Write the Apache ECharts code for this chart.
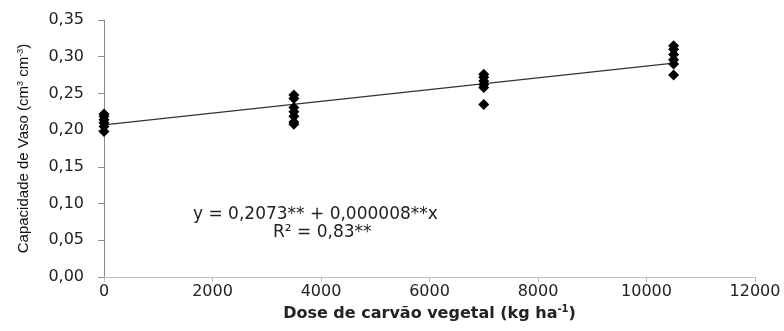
<!DOCTYPE html>
<html>
<head>
<meta charset="utf-8">
<script src="https://cdn.jsdelivr.net/npm/echarts@6/dist/echarts.min.js"></script>
<style>html,body{margin:0;padding:0;background:#fff}#c{width:784px;height:331px}</style>
</head>
<body>
<div id="c"></div>
<script>
// Data
const doses = [0, 3500, 7000, 10500];
const vals0 = [0.222, 0.219, 0.214, 0.210, 0.205, 0.198];
const vals3500 = [0.248, 0.243, 0.231, 0.225, 0.219, 0.211, 0.208];
const vals7000 = [0.276, 0.272, 0.267, 0.262, 0.258, 0.235];
const vals10500 = [0.315, 0.310, 0.303, 0.296, 0.290, 0.275];
const fitX = [0, 10500];
const fitY = [0.2073, 0.2913];
const xTicks = [0, 2000, 4000, 6000, 8000, 10000, 12000];
const yTicks = [0, 0.05, 0.10, 0.15, 0.20, 0.25, 0.30, 0.35];
const eqLine1 = 'y = 0,2073** + 0,000008**x';
const eqLine2 = 'R² = 0,83**';

const groups = [vals0, vals3500, vals7000, vals10500];
const points = [];
groups.forEach((g, i) => g.forEach(v => points.push([doses[i], v])));
const fitData = fitX.map((x, i) => [x, fitY[i]]);

const chart = echarts.init(document.getElementById('c'), null, {renderer: 'canvas'});
const tickFont = 'DejaVu Sans';
chart.setOption({
  animation: false,
  backgroundColor: '#fff',
  grid: {left: 104, right: 29, top: 20, bottom: 54, containLabel: false},
  xAxis: {
    type: 'value', min: xTicks[0], max: xTicks[xTicks.length - 1], interval: 2000,
    splitLine: {show: false},
    axisLine: {show: true, onZero: false, lineStyle: {color: '#bdbdbd', width: 1}},
    axisTick: {show: true, length: 5, lineStyle: {color: '#bdbdbd'}},
    axisLabel: {fontFamily: tickFont, fontSize: 16, color: '#222', margin: 7,
      formatter: v => String(v)},
    name: 'Dose de carvão vegetal (kg ha{sup|-1})',
    nameLocation: 'middle', nameGap: 10,
    nameTextStyle: {
      fontFamily: 'DejaVu Sans', fontWeight: 'bold', fontSize: 16, color: '#222',
      rich: {sup: {fontFamily: 'DejaVu Sans', fontWeight: 'bold', fontSize: 10, verticalAlign: 'top', padding: [0,0,7,0], color: '#222'}}
    }
  },
  yAxis: {
    type: 'value', min: yTicks[0], max: yTicks[yTicks.length - 1], interval: 0.05,
    splitLine: {show: false},
    axisLine: {show: true, lineStyle: {color: '#8a8a8a', width: 1}},
    axisTick: {show: true, length: 6, lineStyle: {color: '#8a8a8a'}},
    axisLabel: {fontFamily: tickFont, fontSize: 16, color: '#222', margin: 20,
      formatter: v => v.toFixed(2).replace('.', ',')},
    name: 'Capacidade de Vaso (cm{sup|3} cm{sup|-3})',
    nameLocation: 'middle', nameGap: 72, nameRotate: 90,
    nameTextStyle: {
      fontFamily: 'Liberation Sans', fontSize: 15, color: '#111',
      rich: {sup: {fontFamily: 'Liberation Sans', fontSize: 9, verticalAlign: 'top', padding: [0,0,7,0], color: '#111'}}
    }
  },
  series: [
    {
      type: 'line', data: fitData, symbol: 'none', silent: true,
      lineStyle: {color: '#333', width: 1.2}, z: 2
    },
    {
      type: 'scatter', data: points, symbol: 'diamond', symbolSize: [11, 11],
      itemStyle: {color: '#000', opacity: 1}, z: 3
    }
  ],
  graphic: [
    {type: 'text', left: 193, top: 206, style: {text: eqLine1, font: '17px "DejaVu Sans"', fill: '#222'}},
    {type: 'text', left: 273, top: 224, style: {text: eqLine2, font: '17px "DejaVu Sans"', fill: '#222'}}
  ]
});
</script>
</body>
</html>
